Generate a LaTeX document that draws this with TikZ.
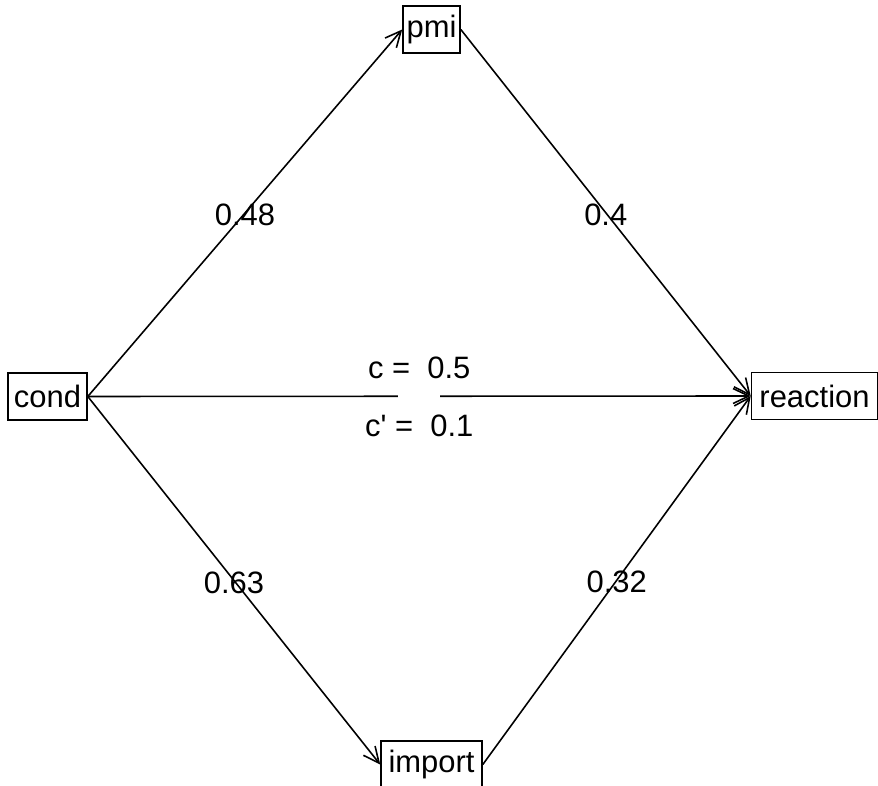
\documentclass[tikz,border=0pt]{standalone}
\usepackage{fontspec}
\setmainfont{Liberation Sans}
\usetikzlibrary{positioning,arrows.meta}
\tikzset{
    >={Straight Barb[length=9pt,width=8.5pt]},
    every edge/.style={draw,->,line width=0.9pt},
    box/.style={draw,line width=0.9pt,minimum height=0.94cm,inner sep=0.05cm},
    gapmark/.style={fill=white,minimum width=0.84cm,minimum height=0.12cm,inner sep=0pt}
}

\begin{document}
\begin{tikzpicture}[font=\fontsize{17.6}{21}\selectfont]

\useasboundingbox (0,0) rectangle (17.56cm,15.70cm);

% Variables
\node[box,minimum width=1.58cm] (cond) at (0.95cm,7.77cm) {cond};
\node[box,minimum width=1.14cm] (pmi) at (8.63cm,15.11cm) {pmi};
\node[box,minimum width=2.02cm] (import) at (8.63cm,0.41cm) {import};
\node[box,minimum width=2.52cm] (reaction) at (16.29cm,7.78cm) {reaction};

% Paths
\path (cond.east) edge node[yshift=-0.04cm] {0.48} (pmi.west);
\path (pmi.east) edge node[yshift=-0.04cm] {0.4} (reaction.west);
\path (cond.east) edge node[yshift=-0.04cm] {0.63} (import.west);
\path (import.east) edge node[yshift=-0.04cm] {0.32} (reaction.west);
\path (cond.east) edge node[gapmark] (mid) {} (reaction.west);

% Total and direct effect
\node (ctot) at ([yshift=0.57cm]mid) {c =\ \ 0.5};
\node (cdir) at ([yshift=-0.60cm]mid) {c\textquotesingle\ =\ \ 0.1};

\end{tikzpicture}
\end{document}
